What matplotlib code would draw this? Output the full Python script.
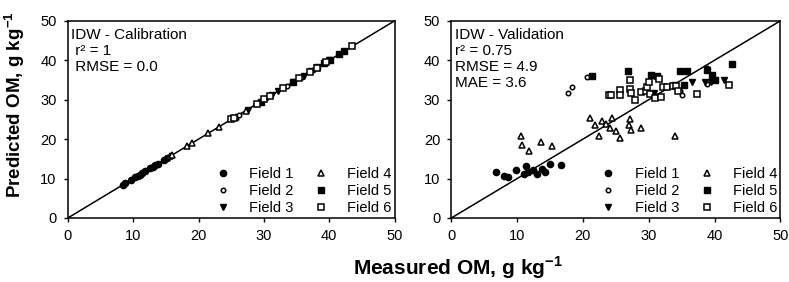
import numpy as np
import matplotlib.pyplot as plt

plt.rcParams['font.family'] = ['Liberation Sans', 'DejaVu Sans']
plt.rcParams['mathtext.fontset'] = 'custom'
plt.rcParams['mathtext.rm'] = 'Liberation Sans'
plt.rcParams['mathtext.bf'] = 'Liberation Sans:bold'

# calibration: measured values per field (predicted = measured)
cal_f1 = [8.4, 8.8, 9.6, 10.3, 10.7, 11.0, 11.4, 11.8, 12.6, 13.0, 13.4, 13.8, 14.7, 15.1]
cal_f2 = [26.2, 28.8, 30.4, 33.6, 35.8, 37.6]
cal_f3 = [27.5, 31.2, 32.2, 34.6, 36.1, 37.2, 40.0]
cal_f4 = [15.6, 15.9, 18.3, 19.0, 21.5, 23.1, 25.7, 27.2]
cal_f5 = [29.5, 34.5, 38.2, 39.2, 40.2, 41.5, 42.3]
cal_f6 = [25.0, 25.4, 29.0, 30.1, 31.0, 33.0, 35.4, 37.0, 38.1, 39.5, 43.5]

# validation: measured (x) and predicted (y)
val_f1_x = [6.8, 8.0, 8.6, 9.9, 11.0, 11.3, 11.6, 12.4, 13.0, 13.8, 14.3, 15.0, 16.6]
val_f1_y = [11.6, 10.7, 10.3, 12.1, 11.2, 13.1, 11.6, 12.1, 11.2, 12.4, 11.7, 13.8, 13.5]
val_f2_x = [17.8, 18.4, 20.6, 34.7, 35.1, 38.8, 38.9]
val_f2_y = [31.8, 33.2, 35.7, 32.3, 31.3, 38.0, 34.0]
val_f3_x = [30.8, 34.0, 36.6, 38.6, 39.4, 41.4]
val_f3_y = [31.7, 33.8, 34.6, 34.4, 34.6, 35.0]
val_f4_x = [10.6, 10.8, 11.8, 13.6, 15.3, 21.1, 21.9, 22.5, 22.9, 23.5, 24.1, 24.4,
            25.0, 25.6, 27.0, 27.1, 27.3, 28.8, 34.0]
val_f4_y = [20.7, 18.6, 16.9, 19.2, 18.3, 25.3, 23.6, 20.7, 24.5, 23.9, 22.8, 25.3,
            22.0, 20.3, 23.6, 25.1, 22.4, 22.8, 20.7]
val_f5_x = [21.4, 26.8, 30.4, 31.3, 34.8, 35.3, 35.8, 38.9, 39.6, 40.1, 42.7]
val_f5_y = [36.1, 37.2, 36.3, 36.1, 37.2, 33.8, 37.4, 37.6, 36.3, 35.1, 39.0]
val_f6_x = [23.9, 24.2, 25.6, 25.7, 27.2, 27.2, 27.3, 27.9, 28.8, 29.6, 29.7, 30.0,
            30.2, 30.9, 31.5, 31.9, 32.2, 32.8, 33.7, 34.2, 34.5, 37.4, 42.2]
val_f6_y = [31.1, 31.3, 32.5, 31.1, 34.9, 32.7, 31.8, 30.0, 31.9, 32.3, 33.2, 34.6,
            31.5, 30.4, 35.2, 30.8, 33.2, 33.2, 33.5, 33.4, 32.1, 31.4, 33.7]

styles = {
    'Field 1': dict(marker='o', mfc='black', mec='black', ms=4.5),
    'Field 2': dict(marker='o', mfc='white', mec='black', ms=3.2, mew=1.1),
    'Field 3': dict(marker='v', mfc='black', mec='black', ms=4.2),
    'Field 4': dict(marker='^', mfc='white', mec='black', ms=4.2, mew=1.1),
    'Field 5': dict(marker='s', mfc='black', mec='black', ms=4),
    'Field 6': dict(marker='s', mfc='white', mec='black', ms=4, mew=1.1),
}

fig = plt.figure(figsize=(7.89, 2.82), dpi=100)
ax1 = fig.add_axes([0.086, 0.227, 0.414, 0.699])
ax2 = fig.add_axes([0.572, 0.227, 0.417, 0.699])

cal = [cal_f1, cal_f2, cal_f3, cal_f4, cal_f5, cal_f6]
val = [(val_f1_x, val_f1_y), (val_f2_x, val_f2_y), (val_f3_x, val_f3_y),
       (val_f4_x, val_f4_y), (val_f5_x, val_f5_y), (val_f6_x, val_f6_y)]

for ax in (ax1, ax2):
    ax.plot([0, 50], [0, 50], color='black', lw=1.1, zorder=1)

for name, v in zip(styles, cal):
    ax1.plot(v, v, ls='none', label=name, zorder=2, **styles[name])
for name, (x, y) in zip(styles, val):
    ax2.plot(x, y, ls='none', label=name, zorder=2, **styles[name])

ax1.text(0.01, 0.965, 'IDW - Calibration\n r² = 1\n RMSE = 0.0', transform=ax1.transAxes,
         va='top', ha='left', fontsize=11, linespacing=1.2)
ax2.text(0.01, 0.965, 'IDW - Validation\nr² = 0.75\nRMSE = 4.9\nMAE = 3.6', transform=ax2.transAxes,
         va='top', ha='left', fontsize=11, linespacing=1.2)

for ax in (ax1, ax2):
    ax.set_xlim(0, 50)
    ax.set_ylim(0, 50)
    ax.set_xticks([0, 10, 20, 30, 40, 50])
    ax.set_yticks([0, 10, 20, 30, 40, 50])
    ax.tick_params(direction='out', length=3, width=1, labelsize=10.5, pad=5)
    for s in ax.spines.values():
        s.set_linewidth(1.1)
    ax.legend(ncol=2, loc='lower right', frameon=False, fontsize=10.5,
              handletextpad=1.3, columnspacing=1.4, labelspacing=0.2,
              borderaxespad=0.0, borderpad=0.2, handlelength=1.0)

fig.text(0.018, 0.63, 'Predicted OM, g kg$^{\\mathbf{-1}}$', rotation=90,
         ha='center', va='center', fontsize=13.5, fontweight='bold')
fig.text(0.58, 0.05, 'Measured OM, g kg$^{\\mathbf{-1}}$',
         ha='center', va='center', fontsize=15, fontweight='bold')

fig.savefig('out.png', dpi=100)
